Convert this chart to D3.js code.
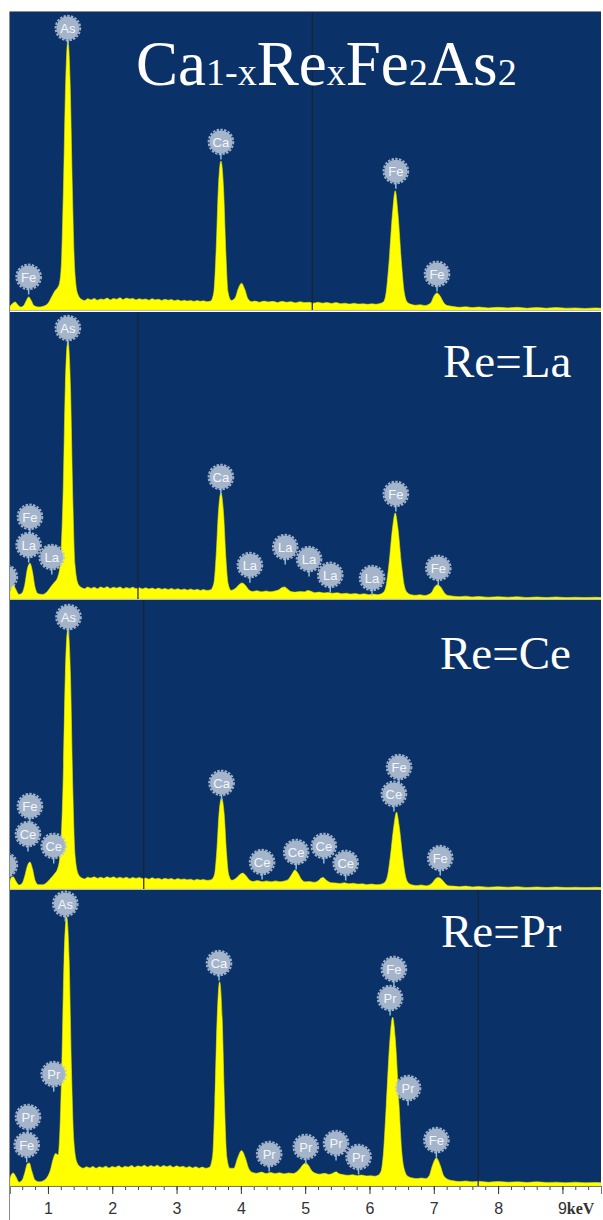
<!DOCTYPE html>
<meta charset="utf-8">
<style>
  body { margin: 0; background: #fff; }
</style>
<script src="https://d3js.org/d3.v7.min.js"></script>

<div id="my_dataviz"></div>
<script>

// ---- data (energy in keV, intensity in % of panel height) ----
var panelNames = ["Ca1-xRexFe2As2", "Re=La", "Re=Ce", "Re=Pr"];
var titleParts = [["Ca", 0], ["1-x", 1], ["Re", 0], ["x", 1], ["Fe", 0], ["2", 1], ["As", 0], ["2", 1]];

var spectrumBase = [[0.41,1.2],[0.45,2.2],[0.49,2.7],[0.53,1.8],[0.58,1.0],[0.62,1.4],[0.66,3.0],[0.70,4.4],[0.74,3.2],[0.78,1.5],[0.85,1.0],[0.93,1.3],[1.0,2.2],[1.06,4.5],[1.11,6.5],[1.15,7.5],
  [1.18,9],[1.21,16],[1.24,40],[1.275,76],[1.31,90.6],[1.345,76],[1.38,40],[1.415,14],[1.46,5.5],
  [1.52,3.6],[1.57,3.2],[1.62,3.8],[1.67,3.4],[1.72,3.9],[1.77,3.3],[1.82,3.7],[1.87,3.5],[1.92,4.0],[1.97,3.4],[2.02,3.9],[2.07,3.6],[2.12,4.1],[2.17,3.5],[2.22,4.0],[2.27,3.7],[2.32,3.9],[2.37,3.4],[2.42,3.8],[2.47,3.5],[2.52,3.7],[2.57,3.3],[2.62,3.8],[2.67,3.4],[2.72,3.6],[2.77,3.2],[2.82,3.6],[2.87,3.3],[2.92,3.5],[2.97,3.1],[3.02,3.4],[3.07,3.0],[3.12,3.3],[3.17,3.0],[3.22,3.2],[3.27,2.9],[3.32,3.2],[3.37,2.9],[3.42,3.1],[3.47,2.8],
  [3.53,3.0],[3.58,6],[3.615,20],[3.65,41],[3.69,50],[3.73,41],[3.765,20],[3.80,6],[3.85,3.2],
  [3.91,4],[3.96,7.2],[4.01,9],[4.06,7],[4.11,3.8],[4.17,2.8],
  [4.22,3.0],[4.29,2.6],[4.36,3.0],[4.43,2.7],[4.5,2.9],[4.57,2.5],[4.64,2.9],[4.71,2.6],[4.78,2.8],[4.85,2.4],[4.92,2.8],[4.99,2.5],[5.06,2.6],[5.13,2.3],[5.2,2.6],[5.27,2.3],[5.34,2.5],[5.41,2.2],[5.48,2.5],[5.55,2.1],[5.62,2.3],[5.69,2.0],[5.76,2.3],[5.83,2.0],[5.9,2.1],[5.97,1.9],[6.04,2.1],[6.1,1.9],[6.16,2.2],
  [6.22,2.8],[6.26,6],[6.30,15],[6.36,33],[6.40,40],[6.44,33],[6.50,15],[6.54,6],[6.59,2.6],
  [6.65,1.9],[6.72,1.6],[6.79,1.8],[6.86,1.5],[6.91,1.8],
  [6.96,2.6],[7.0,4.6],[7.05,5.7],[7.10,4.6],[7.15,2.6],[7.21,1.5],
  [7.3,1.2],[7.4,0.9],[7.5,1.1],[7.6,0.8],[7.7,1.0],[7.85,0.7],[8.0,0.9],[8.15,0.7],[8.3,0.9],[8.45,0.6],[8.6,0.8],[8.75,0.6],[8.9,0.8],[9.05,0.6],[9.2,0.7],[9.35,0.5],[9.5,0.7],[9.6,0.6]];

var spectrumLa = [[0.41,2.5],[0.43,4.2],[0.46,5],[0.50,3.4],[0.55,1.6],[0.60,2.2],[0.64,5],[0.68,10.5],[0.72,12.5],[0.76,9.5],[0.80,4],[0.85,1.8],[0.92,1.6],[0.99,2.6],[1.05,4.4],[1.1,5.8],[1.15,7.5],
  [1.19,12],[1.235,36],[1.27,74],[1.31,90],[1.35,74],[1.385,36],[1.42,12],[1.47,5.2],
  [1.52,4.0],[1.57,3.6],[1.62,4.2],[1.67,3.7],[1.72,4.1],[1.77,3.6],[1.82,4.2],[1.87,3.8],[1.92,4.3],[1.97,3.7],[2.02,4.1],[2.07,3.8],[2.12,4.2],[2.17,3.6],[2.22,4.0],[2.27,3.7],[2.32,4.1],[2.37,3.6],[2.42,3.9],[2.47,3.5],[2.52,3.9],[2.57,3.5],[2.62,3.8],[2.67,3.4],[2.72,3.8],[2.77,3.4],[2.82,3.7],[2.87,3.3],[2.92,3.7],[2.97,3.3],[3.02,3.6],[3.07,3.2],[3.12,3.5],[3.17,3.1],[3.22,3.5],[3.27,3.1],[3.32,3.4],[3.37,3.0],[3.42,3.3],[3.47,3.0],
  [3.53,3.2],[3.58,5.5],[3.615,15],[3.65,30],[3.69,37],[3.73,30],[3.765,15],[3.80,5.5],[3.85,3.0],
  [3.92,3.8],[3.97,5],[4.02,5.6],[4.07,4.8],[4.12,3.3],[4.18,2.6],
  [4.25,2.9],[4.32,2.5],[4.39,2.8],[4.46,2.5],[4.53,2.8],[4.59,3.2],[4.64,4.0],[4.68,4.2],[4.72,3.6],[4.78,2.6],[4.85,2.4],[4.92,2.6],[4.99,2.5],[5.04,3.0],[5.09,2.7],[5.15,2.2],[5.22,2.4],[5.29,2.1],[5.36,2.3],[5.43,2.0],[5.5,2.2],[5.57,1.8],[5.64,2.0],[5.71,1.7],[5.78,1.9],[5.85,1.6],[5.92,1.8],[5.99,1.5],[6.06,1.7],[6.12,1.5],[6.17,1.7],
  [6.22,2.4],[6.26,4.8],[6.30,11.5],[6.36,25],[6.40,30],[6.44,25],[6.50,11.5],[6.54,4.8],[6.59,2.2],
  [6.65,1.5],[6.72,1.3],[6.79,1.5],[6.86,1.2],[6.91,1.5],
  [6.97,2.4],[7.01,4.1],[7.06,5],[7.11,4.1],[7.16,2.3],[7.22,1.2],
  [7.3,1.0],[7.4,0.8],[7.5,1.0],[7.6,0.7],[7.7,0.9],[7.85,0.6],[8.0,0.8],[8.15,0.6],[8.3,0.8],[8.45,0.5],[8.6,0.7],[8.75,0.5],[8.9,0.7],[9.05,0.5],[9.2,0.6],[9.35,0.5],[9.5,0.6],[9.6,0.5]];

var spectrumCe = [[0.41,2.8],[0.43,4],[0.46,4.2],[0.50,2.8],[0.55,1.4],[0.60,2.0],[0.64,4.5],[0.68,8],[0.72,9.3],[0.76,7],[0.80,3],[0.85,1.5],[0.92,1.5],[0.99,2.4],[1.05,3.9],[1.1,5.2],[1.15,7],
  [1.19,12],[1.235,36],[1.27,74],[1.31,90],[1.35,74],[1.385,36],[1.42,12],[1.47,5.2],
  [1.52,3.9],[1.57,3.5],[1.62,4.1],[1.67,3.8],[1.72,4.2],[1.77,3.7],[1.82,4.1],[1.87,3.7],[1.92,4.2],[1.97,3.8],[2.02,4.2],[2.07,3.7],[2.12,4.1],[2.17,3.7],[2.22,4.1],[2.27,3.6],[2.32,4.0],[2.37,3.7],[2.42,4.0],[2.47,3.6],[2.52,3.8],[2.57,3.4],[2.62,3.9],[2.67,3.5],[2.72,3.7],[2.77,3.3],[2.82,3.7],[2.87,3.4],[2.92,3.6],[2.97,3.2],[3.02,3.6],[3.07,3.3],[3.12,3.5],[3.17,3.2],[3.22,3.4],[3.27,3.0],[3.32,3.4],[3.37,3.1],[3.42,3.3],[3.47,3.0],
  [3.54,3.2],[3.59,5],[3.625,13],[3.66,26],[3.70,31.5],[3.74,26],[3.775,13],[3.81,5],[3.86,3.0],
  [3.93,3.8],[3.98,4.9],[4.03,5.5],[4.08,4.6],[4.13,3.2],[4.19,2.6],
  [4.26,2.9],[4.33,2.5],[4.4,2.8],[4.47,2.5],[4.54,2.8],[4.61,2.5],[4.68,2.8],[4.74,3.4],[4.79,5],[4.84,6.6],[4.89,5.4],[4.94,3.4],[5.0,2.5],[5.07,2.6],[5.14,2.3],[5.2,2.8],[5.25,3.8],[5.28,4.0],[5.33,3.0],[5.4,2.2],[5.47,2.1],[5.54,1.9],[5.61,2.2],[5.68,1.8],[5.75,2.0],[5.82,1.7],[5.89,1.8],[5.96,1.5],[6.03,1.7],[6.1,1.5],[6.16,1.6],
  [6.23,2.2],[6.28,4.5],[6.32,10.5],[6.38,22],[6.42,26.6],[6.46,22],[6.52,10.5],[6.56,4.5],[6.61,2.0],
  [6.67,1.4],[6.74,1.2],[6.81,1.4],[6.88,1.1],[6.93,1.4],
  [6.98,2.2],[7.02,3.4],[7.07,4],[7.12,3.4],[7.17,2.1],[7.23,1.1],
  [7.3,1.0],[7.4,0.8],[7.5,1.0],[7.6,0.7],[7.7,0.9],[7.85,0.6],[8.0,0.8],[8.15,0.6],[8.3,0.8],[8.45,0.5],[8.6,0.7],[8.75,0.5],[8.9,0.7],[9.05,0.5],[9.2,0.6],[9.35,0.5],[9.5,0.6],[9.6,0.5]];

var spectrumPr = [[0.41,2.5],[0.43,3.8],[0.46,4.4],[0.50,3.2],[0.55,1.3],[0.60,2.0],[0.64,4.5],[0.68,7.5],[0.71,7.8],[0.75,5],[0.80,2],[0.86,1.4],[0.93,1.8],[0.99,3],[1.04,5.5],[1.08,9],[1.12,11],[1.16,10.5],
  [1.18,16],[1.215,40],[1.25,76],[1.29,91],[1.33,76],[1.365,40],[1.40,16],[1.45,8],[1.5,6.5],
  [1.55,6.0],[1.6,6.5],[1.65,6.1],[1.7,6.6],[1.75,6.0],[1.8,6.5],[1.85,6.2],[1.9,6.7],[1.95,6.1],[2.0,6.6],[2.05,6.3],[2.1,6.8],[2.15,6.2],[2.2,6.7],[2.25,6.4],[2.3,6.9],[2.35,6.3],[2.4,6.8],[2.45,6.5],[2.5,7.0],[2.55,6.4],[2.6,6.9],[2.65,6.5],[2.7,7.0],[2.75,6.4],[2.8,6.9],[2.85,6.5],[2.9,6.9],[2.95,6.3],[3.0,6.8],[3.05,6.4],[3.1,6.7],[3.15,6.2],[3.2,6.6],[3.25,6.1],[3.3,6.5],[3.35,6.0],[3.4,6.4],[3.45,6.0],
  [3.51,6.3],[3.56,10],[3.595,28],[3.63,56],[3.67,69],[3.71,56],[3.745,28],[3.78,10],[3.83,6],
  [3.89,6],[3.95,9.5],[4.01,12],[4.07,9.5],[4.12,6],[4.18,4.6],
  [4.25,4.3],[4.32,4.7],[4.39,4.2],[4.46,4.6],[4.53,4.2],[4.6,4.5],[4.67,4.1],[4.74,4.4],[4.81,4.2],[4.87,4.8],[4.93,6.2],[4.98,7.5],[5.01,7.8],[5.05,7],[5.1,5.2],[5.16,4.3],[5.23,4.0],[5.3,4.3],[5.37,3.9],[5.43,4.3],[5.48,4.8],[5.53,4.1],[5.6,3.8],[5.67,3.6],[5.74,3.8],[5.81,3.5],[5.88,3.7],[5.95,3.4],[6.02,3.5],[6.08,3.3],[6.13,3.6],
  [6.18,5],[6.22,12],[6.26,27],[6.32,50],[6.36,57],[6.40,50],[6.46,27],[6.50,12],[6.55,5],[6.6,3.2],
  [6.67,2.7],[6.74,2.5],[6.81,2.7],[6.87,2.5],
  [6.93,3.5],[6.98,7],[7.04,9.5],[7.10,7],[7.15,3.6],[7.22,2.2],
  [7.3,1.8],[7.4,1.5],[7.5,1.7],[7.6,1.4],[7.7,1.6],[7.85,1.3],[8.0,1.5],[8.15,1.3],[8.3,1.4],[8.45,1.2],[8.6,1.4],[8.75,1.2],[8.9,1.3],[9.05,1.1],[9.2,1.3],[9.35,1.1],[9.5,1.2],[9.6,1.1]];

// element tags: [label, keV, height of tag centre in % of panel]
var markersBase = [["As",1.31,94.6],["Ca",3.69,56.4],["Fe",6.41,46.6],["Fe",7.05,12.1],["Fe",0.70,11.1]];
var markersLa = [["As",1.31,94.4],["Ca",3.69,42.5],["Fe",6.41,36.6],["Fe",7.07,10.8],["Fe",0.72,28.6],["La",0.70,18.8],["La",1.06,14.6],["La",0.33,7.7],["La",4.14,11.8],["La",4.69,18.1],["La",5.06,13.9],["La",5.39,8.4],["La",6.04,7.3]];
var markersCe = [["As",1.32,94.1],["Ca",3.70,36.7],["Fe",6.46,42.2],["Ce",6.38,32.9],["Fe",7.10,10.7],["Fe",0.72,28.7],["Ce",0.69,19.0],["Ce",1.09,14.9],["Ce",0.33,8.3],["Ce",4.33,9.3],["Ce",4.86,12.8],["Ce",5.29,14.9],["Ce",5.63,9.0]];
var markersPr = [["As",1.27,95.3],["Ca",3.66,75.3],["Fe",6.38,73.3],["Pr",6.32,63.5],["Pr",6.60,33.1],["Fe",7.04,15.5],["Pr",1.09,37.8],["Pr",0.69,23.3],["Fe",0.67,13.9],["Pr",4.44,10.8],["Pr",5.01,13.2],["Pr",5.48,14.5],["Pr",5.83,9.8]];

// position of the instrument cursor line in each panel (keV)
var cursorKeV = [5.11, 2.40, 2.49, 7.69];

var tickValues = [1, 2, 3, 4, 5, 6, 7, 8, 9];
var tickLabels = ["1", "2", "3", "4", "5", "6", "7", "8", "9keV"];

var spectra = [spectrumBase, spectrumLa, spectrumCe, spectrumPr];
var markers = [markersBase, markersLa, markersCe, markersPr];

// ---- layout ----
var width = 603, height = 1220;
var panelTop = [12, 312, 600, 890],
    panelBottom = [310, 599, 889, 1186];
var left = 10, right = 601;
var labelBaseline = [85, 377, 669, 947];
var labelX = [136, 443, 440, 441];
var tagR = 11.5;

var svg = d3.select("#my_dataviz")
  .append("svg")
    .attr("width", width)
    .attr("height", height)
    .style("display", "block");

svg.append("rect")
  .attr("width", width).attr("height", height).attr("fill", "#fff");

// X scale shared by all panels
var x = d3.scaleLinear()
  .domain([0.41, 9.6])
  .range([left, right]);

var defs = svg.append("defs");

panelNames.forEach(function(name, i) {
  var y = d3.scaleLinear()
    .domain([0, 100])
    .range([panelBottom[i], panelTop[i]]);

  defs.append("clipPath").attr("id", "clip" + i)
    .append("rect")
      .attr("x", left).attr("y", panelTop[i])
      .attr("width", right - left).attr("height", panelBottom[i] - panelTop[i]);

  var g = svg.append("g").attr("clip-path", "url(#clip" + i + ")");

  // background
  g.append("rect")
    .attr("x", left).attr("y", panelTop[i])
    .attr("width", right - left).attr("height", panelBottom[i] - panelTop[i])
    .attr("fill", "#0b3268");

  // the spectrum
  g.append("path")
    .datum(spectra[i])
    .attr("fill", "#ffff00")
    .attr("stroke", "#e4e400")
    .attr("stroke-width", 0.6)
    .attr("d", d3.area()
      .curve(d3.curveMonotoneX)
      .x(function(d) { return x(d[0]); })
      .y0(panelBottom[i])
      .y1(function(d) { return y(d[1]); })
    );

  // cursor line
  g.append("line")
    .attr("x1", x(cursorKeV[i])).attr("x2", x(cursorKeV[i]))
    .attr("y1", panelTop[i]).attr("y2", panelBottom[i])
    .attr("stroke", "#1c2236").attr("stroke-width", 1.2);

  // element tags
  var tag = g.selectAll(".tag")
    .data(markers[i])
    .enter().append("g")
      .attr("class", "tag")
      .attr("transform", function(d) { return "translate(" + x(d[1]) + "," + y(d[2]) + ")"; });

  tag.append("line")
    .attr("x1", 0).attr("x2", 0).attr("y1", 0).attr("y2", tagR + 6)
    .attr("stroke", "#86bde6").attr("stroke-width", 1.5);

  tag.append("circle")
    .attr("r", tagR + 0.8)
    .attr("fill", "none")
    .attr("stroke", "#bac8da")
    .attr("stroke-opacity", 0.85)
    .attr("stroke-width", 2)
    .attr("stroke-dasharray", "2.4 1.4");

  tag.append("circle")
    .attr("r", tagR)
    .attr("fill", "#a4b5cb");

  // tags cut by the left edge only show their rim
  tag.filter(function(d) { return x(d[1]) - tagR >= left; })
    .append("text")
      .attr("text-anchor", "middle")
      .attr("dy", "0.36em")
      .attr("font-family", "Liberation Sans, Arial, sans-serif")
      .attr("font-size", 13)
      .attr("fill", "#f3f5f9")
      .text(function(d) { return d[0]; });

  // panel label
  var label = g.append("text")
    .attr("x", labelX[i]).attr("y", labelBaseline[i])
    .attr("font-family", "Liberation Serif, Times New Roman, serif")
    .attr("fill", "#fff");

  if (i === 0) {
    titleParts.forEach(function(p) {
      label.append("tspan")
        .attr("font-size", p[1] ? 38 : 63)
        .text(p[0]);
    });
  } else {
    label.attr("font-size", 47).text(name);
  }

  // thin separator at the bottom of the panel
  svg.append("line")
    .attr("x1", left).attr("x2", right)
    .attr("y1", panelBottom[i] + 0.5).attr("y2", panelBottom[i] + 0.5)
    .attr("stroke", "#b9bcc4").attr("stroke-width", 1);
});

// outer frame
svg.append("line")
  .attr("x1", 9.5).attr("x2", 9.5).attr("y1", panelTop[0]).attr("y2", height)
  .attr("stroke", "#8c8c8c").attr("stroke-width", 1);
svg.append("line")
  .attr("x1", 9.5).attr("x2", right).attr("y1", panelTop[0] - 0.5).attr("y2", panelTop[0] - 0.5)
  .attr("stroke", "#8c8c8c").attr("stroke-width", 1);

// Add X axis (minor ticks every 0.2 keV)
var axisY = panelBottom[3];
svg.append("g")
  .attr("transform", "translate(0," + axisY + ")")
  .call(d3.axisBottom(x).tickValues(d3.range(0.6, 9.61, 0.2)).tickSize(4).tickFormat(""))
  .call(function(a) { a.select(".domain").remove(); a.selectAll("line").attr("stroke", "#444"); });

var xAxis = svg.append("g")
  .attr("transform", "translate(0," + axisY + ")")
  .call(d3.axisBottom(x).tickValues(tickValues).tickSize(8)
    .tickFormat(function(d, k) { return tickLabels[k]; }));

xAxis.select(".domain").attr("stroke", "#777");
xAxis.selectAll("line").attr("stroke", "#333");
xAxis.selectAll("text")
  .attr("y", 17)
  .attr("font-family", "Liberation Sans, Arial, sans-serif")
  .attr("font-size", 16)
  .attr("fill", "#333");

// last label: "9" then serif "keV"
xAxis.selectAll(".tick text").filter(function(d) { return d === 9; })
  .text(null)
  .attr("text-anchor", "start")
  .attr("x", -5)
  .call(function(t) {
    t.append("tspan").text("9");
    t.append("tspan")
      .attr("font-family", "Liberation Serif, Times New Roman, serif")
      .attr("font-weight", "bold")
      .attr("font-size", 16)
      .text("keV");
  });

</script>
